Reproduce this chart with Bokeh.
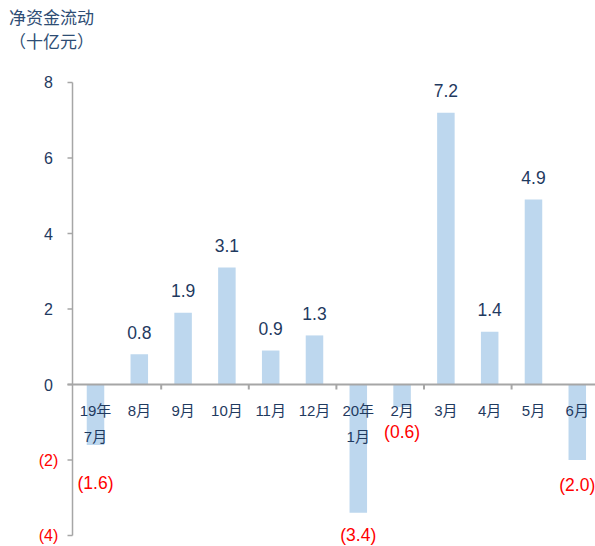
from bokeh.plotting import figure
from bokeh.models import ColumnDataSource, Range1d, LabelSet, Label
from bokeh.embed import file_html
from bokeh.resources import INLINE
from bokeh.core.properties import value

# ---- data ----
categories = ["19年\n7月", "8月", "9月", "10月", "11月", "12月",
              "20年\n1月", "2月", "3月", "4月", "5月", "6月"]
flows = [-1.6, 0.8, 1.9, 3.1, 0.9, 1.3, -3.4, -0.6, 7.2, 1.4, 4.9, -2.0]
y_ticks = [-4, -2, 0, 2, 4, 6, 8]
y_tick_labels = ["(4)", "(2)", "0", "2", "4", "6", "8"]
title_lines = ["净资金流动", "（十亿元）"]

# ---- styles ----
NAVY = "#1F3A5F"
TITLE = "#2E4D74"
RED = "#FF0000"
BAR = "#BDD7EE"
AXIS = "#A6A6A6"
FONT_STR = "Liberation Sans, Noto Sans CJK SC"
FONT = value(FONT_STR)
label_nudge = {"19年\n7月": 13, "20年\n1月": -3}

W, H = 595, 546
# frame covers the whole canvas; ranges chosen so that axis sits at x=72, zero at y=384
x0, x1 = -2.169, 11.416
y0, y1 = -4.291, 10.172
ppu_x = W / (x1 - x0)
ppu_y = H / (y1 - y0)
axis_x = -0.525

p = figure(width=W, height=H, output_backend="svg", toolbar_location=None,
           x_range=Range1d(x0, x1), y_range=Range1d(y0, y1),
           x_axis_location=None, y_axis_location=None,
           min_border_left=0, min_border_right=0, min_border_top=0, min_border_bottom=0)
p.outline_line_color = None
p.xgrid.visible = False
p.ygrid.visible = False
p.background_fill_color = "white"
p.border_fill_color = "white"

xs = list(range(len(categories)))

# bars
p.vbar(x=xs, top=flows, bottom=0, width=0.4, fill_color=BAR, line_color=None)

# y axis line + outward ticks
p.segment(x0=[axis_x], y0=[min(y_ticks)], x1=[axis_x], y1=[max(y_ticks)],
          line_color=AXIS, line_width=1.5)
p.segment(x0=[axis_x - 5 / ppu_x] * len(y_ticks), y0=y_ticks,
          x1=[axis_x] * len(y_ticks), y1=y_ticks, line_color=AXIS, line_width=1.5)

# x axis line at zero + ticks every two categories
p.segment(x0=[axis_x - 5 / ppu_x], y0=[0], x1=[x1], y1=[0], line_color=AXIS, line_width=2)
tick_x = [i + 0.5 for i in range(1, len(categories) - 1, 2)]
p.segment(x0=tick_x, y0=[0] * len(tick_x), x1=tick_x, y1=[-5 / ppu_y] * len(tick_x),
          line_color=AXIS, line_width=2)

# category labels (split into lines)
line1 = [c.split("\n")[0] for c in categories]
line2 = [c.split("\n")[1] if "\n" in c else "" for c in categories]
cat_src = ColumnDataSource(dict(x=xs, y=[0] * len(xs), l1=line1, l2=line2))
p.add_layout(LabelSet(x="x", y="y", text="l1", source=cat_src, y_offset=-26,
                      text_align="center", text_baseline="middle",
                      text_font=FONT, text_font_size="15px", text_color=NAVY))
p.add_layout(LabelSet(x="x", y="y", text="l2", source=cat_src, y_offset=-52,
                      text_align="center", text_baseline="middle",
                      text_font=FONT, text_font_size="15px", text_color=NAVY))

# value labels
vtext = [f"{v:.1f}" if v >= 0 else f"({abs(v):.1f})" for v in flows]
vcol = [NAVY if v >= 0 else RED for v in flows]
voff = [22 if v >= 0 else -(25 + label_nudge.get(c, 0)) for v, c in zip(flows, categories)]
val_src = ColumnDataSource(dict(x=xs, y=flows, t=vtext, c=vcol, o=voff))
p.add_layout(LabelSet(x="x", y="y", text="t", source=val_src, y_offset="o",
                      text_align="center", text_baseline="middle",
                      text_font=FONT, text_font_size="17.5px", text_color="c"))

# y tick labels
ycol = [NAVY if t >= 0 else RED for t in y_ticks]
ytk_src = ColumnDataSource(dict(x=[axis_x] * len(y_ticks), y=y_ticks, t=y_tick_labels, c=ycol))
p.add_layout(LabelSet(x="x", y="y", text="t", source=ytk_src, x_offset=-24,
                      text_align="center", text_baseline="middle",
                      text_font=FONT, text_font_size="16px", text_color="c"))

# title (two lines, top-left, centred on each other)
for i, line in enumerate(title_lines):
    p.add_layout(Label(x=51, y=H - 18 - 24 * i, x_units="screen", y_units="screen",
                       text=line, text_align="center", text_baseline="middle",
                       text_font=FONT_STR, text_font_size="17px", text_color=TITLE))

open("out.html", "w").write(file_html(p, INLINE))
